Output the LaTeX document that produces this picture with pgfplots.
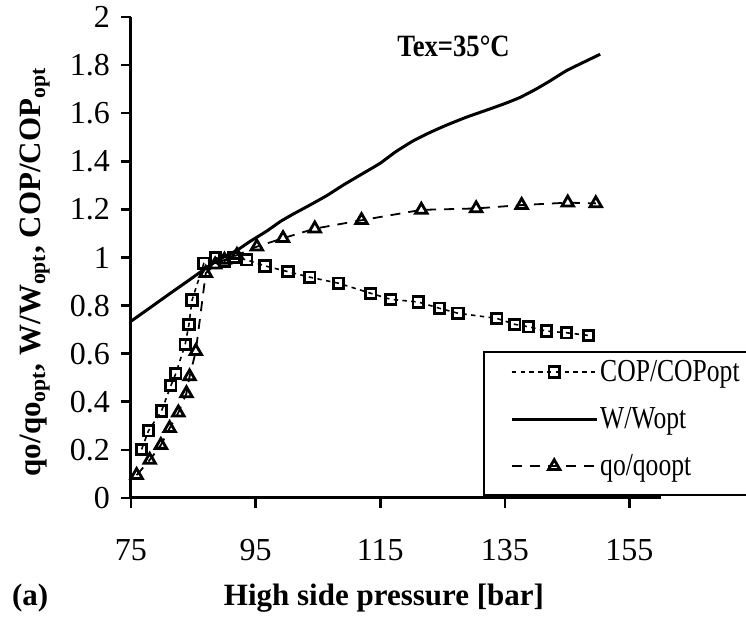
\documentclass[border=0pt]{standalone}
\usepackage{fontspec}
\setmainfont{Liberation Serif}
\newfontfamily\legfont{Liberation Serif}[FakeStretch=0.8]
\newfontfamily\titfont{Liberation Serif}[FakeStretch=0.86]
\usepackage{pgfplots}
\pgfplotsset{compat=1.18}

\newcommand{\tickfont}{\fontsize{16}{18}\selectfont}
\newcommand{\labfont}{\fontsize{15.5}{18}\selectfont\bfseries}

\begin{document}
\begin{tikzpicture}
\path[use as bounding box] (-65.5pt,-61pt) rectangle (307.5pt,249pt);
\begin{axis}[
  scale only axis,
  width=264.8pt, height=240.5pt,
  xmin=75, xmax=160, ymin=0, ymax=2,
  clip=false,
  axis x line*=bottom, axis y line*=left,
  axis line style={line width=1.5pt},
  tick align=outside,
  major tick length=5pt,
  tick style={line width=1.3pt, black},
  xtick={75,95,115,135,155},
  ytick={0,0.2,0.4,0.6,0.8,1,1.2,1.4,1.6,1.8,2},
  yticklabels={0,0.2,0.4,0.6,0.8,1,1.2,1.4,1.6,1.8,2},
  ticklabel style={font=\tickfont},
  /pgf/number format/assume math mode=true,
  xticklabel style={yshift=-12pt},
  yticklabel style={xshift=-2pt},
  legend cell align=left,
  legend style={at={(axis cs:135.8,0.584)}, anchor=north west, draw=none, fill=none,
    inner sep=0pt, row sep=9.5pt, font=\legfont\fontsize{16}{18}\selectfont,
    nodes={inner sep=1pt}},
  legend image code/.code={
    \draw[mark repeat=2, mark phase=2, #1] plot coordinates {(0pt,0pt) (21.25pt,0pt) (42.5pt,0pt)};
  },
]
% COP/COPopt
\addplot[black, line width=0.8pt, dash pattern=on 2.2pt off 2.2pt,
  mark=square, mark size=2.6pt, mark options={solid, line width=1.4pt, fill=white}]
  coordinates {
  (76.7,0.202) (77.8,0.279) (79.9,0.362) (81.4,0.467) (82.2,0.518)
  (83.7,0.639) (84.3,0.722) (84.8,0.823) (86.7,0.976) (88.6,1.0)
  (90.0,0.985) (91.5,1.0) (93.6,0.99) (96.5,0.965) (100.2,0.941)
  (103.7,0.918) (108.3,0.893) (113.5,0.851) (116.7,0.826) (121.1,0.815)
  (124.5,0.789) (127.5,0.768) (133.7,0.747) (136.6,0.722) (138.8,0.712)
  (141.7,0.694) (144.9,0.687) (148.4,0.676)
  };
\addlegendentry{COP/COPopt}
% W/Wopt
\addplot[black, line width=1.5pt, smooth, tension=0.3] coordinates {
  (75,0.735) (78,0.79) (81.3,0.851) (84,0.90) (86.6,0.948) (89,0.99)
  (92,1.03) (94,1.065) (96.8,1.11) (99,1.15) (101,1.18) (103.5,1.215)
  (106.4,1.257) (109,1.30) (111.8,1.343) (115,1.392) (117.5,1.44)
  (120.3,1.485) (123,1.52) (125.7,1.551) (129,1.585) (132.1,1.613)
  (135,1.64) (137.4,1.665) (140,1.70) (142.3,1.735) (144.9,1.777)
  (147.5,1.81) (150.3,1.845)
  };
\addlegendentry{W/Wopt}
% qo/qoopt
\addplot[black, line width=0.9pt, dash pattern=on 5pt off 4pt,
  mark=triangle, mark size=3.3pt, mark options={solid, line width=1.4pt, fill=white}]
  coordinates {
  (75.9,0.095) (78,0.158) (79.8,0.22) (81.2,0.29) (82.6,0.355)
  (83.9,0.435) (84.4,0.505) (85.4,0.61) (87,0.935) (88.5,0.97)
  (90,0.99) (92,1.01) (95.2,1.045) (99.4,1.08) (104.5,1.12)
  (112,1.155) (121.6,1.198) (130.4,1.204) (137.7,1.218) (145.1,1.228)
  (149.6,1.225)
  };
\addlegendentry{qo/qoopt}
\end{axis}
% legend frame
\draw[line width=0.6pt] (176.5pt,1.5pt) rectangle (312pt,73pt);
% annotations and axis labels
\node[anchor=base west, font=\titfont\fontsize{15.5}{18}\selectfont\bfseries, inner sep=0pt] at (133pt,220.5pt) {Tex=35°C};
\node[font=\labfont] at (126.5pt,-50pt) {High side pressure [bar]};
\node[anchor=west, font=\labfont] at (-63pt,-50pt) {(a)};
\node[font=\labfont, rotate=90] at (-48pt,113pt)
  {qo/qo\textsubscript{opt}, W/W\textsubscript{opt}, COP/COP\textsubscript{opt}};
\end{tikzpicture}
\end{document}
